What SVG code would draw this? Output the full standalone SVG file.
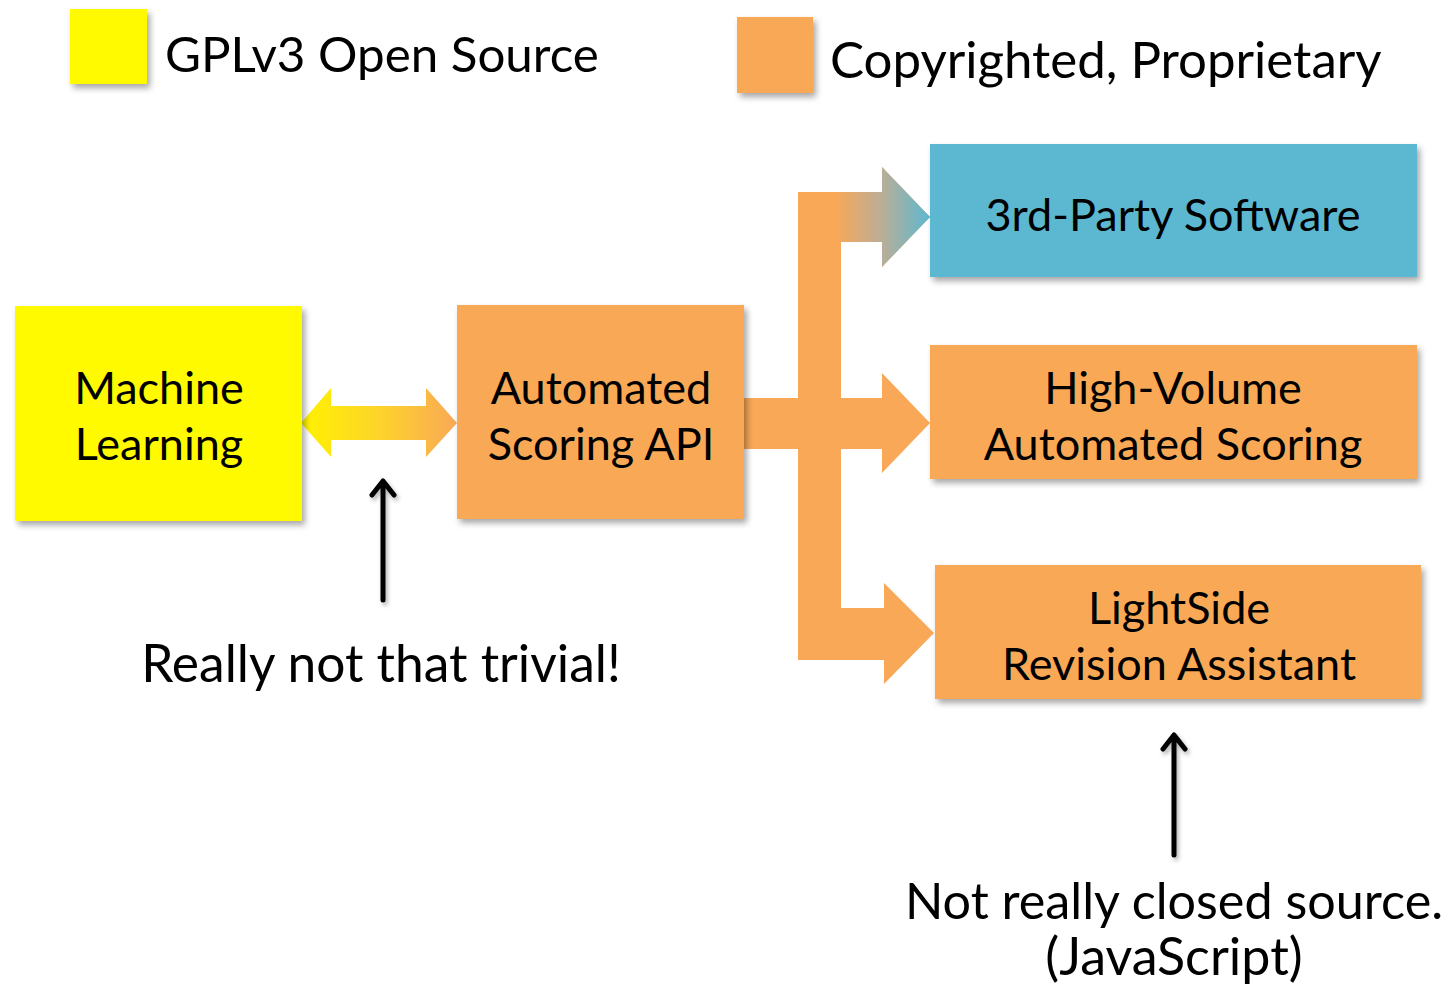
<svg xmlns="http://www.w3.org/2000/svg" width="1451" height="992" viewBox="0 0 1451 992">
<style>
.t{font-family:"Lato","Noto Sans","Liberation Sans",sans-serif;fill:#000;}
.n{font-size:45px;text-anchor:middle;}
.orange{fill:#F9A857;}
.yellow{fill:#FFFA00;}
.blue{fill:#5CB8D1;}
</style>
<defs>
<filter id="sh" x="-10%" y="-10%" width="125%" height="130%">
<feDropShadow dx="3" dy="4" stdDeviation="3" flood-color="#000" flood-opacity="0.35"/>
</filter>
<filter id="sh2" x="-50%" y="-10%" width="200%" height="130%">
<feDropShadow dx="2" dy="3" stdDeviation="2" flood-color="#000" flood-opacity="0.3"/>
</filter>
<linearGradient id="gy" x1="301" y1="0" x2="457" y2="0" gradientUnits="userSpaceOnUse">
<stop offset="0" stop-color="#FFF200"/>
<stop offset="0.5" stop-color="#FDD42A"/>
<stop offset="1" stop-color="#F9A857"/>
</linearGradient>
<linearGradient id="gb" x1="835" y1="0" x2="930" y2="0" gradientUnits="userSpaceOnUse">
<stop offset="0" stop-color="#F9A857"/>
<stop offset="0.5" stop-color="#B9AE98"/>
<stop offset="1" stop-color="#5CB8D1"/>
</linearGradient>
</defs>

<g id="legend-gpl">
<rect class="yellow" x="70" y="9" width="77" height="75" filter="url(#sh)"/>
<text class="t" x="165" y="72" font-size="49.3">GPLv3 Open Source</text>
</g>
<g id="legend-proprietary">
<rect class="orange" x="737" y="17" width="76" height="76" filter="url(#sh)"/>
<text class="t" x="830" y="78" font-size="51">Copyrighted, Proprietary</text>
</g>

<g id="connectors">
<path d="M301,423 L331,388 L331,406 L426,406 L426,388 L457,423 L426,457 L426,440 L331,440 L331,457 Z" fill="url(#gy)"/>
<path d="M798,192 L882,192 L882,167 L930,217 L882,267 L882,242 L841,242 L841,398 L882,398 L882,373 L930,423 L882,473 L882,449 L841,449 L841,608 L884,608 L884,583 L934,633 L884,684 L884,660 L798,660 L798,449 L744,449 L744,398 L798,398 Z" class="orange"/>
<path d="M835,192 L882,192 L882,167 L930,217 L882,267 L882,242 L835,242 Z" fill="url(#gb)"/>
<g stroke="#000" stroke-width="5" fill="none" stroke-linecap="round" stroke-linejoin="round" filter="url(#sh2)">
<path d="M383,600 L383,481 M372,495 L383,481 L394,495"/>
<path d="M1174,855 L1174,735 M1163,749 L1174,735 L1185,749"/>
</g>
</g>

<g id="machine-learning">
<rect class="yellow" x="15" y="306" width="287" height="215" filter="url(#sh)"/>
<text class="t n" x="159" y="404">Machine</text>
<text class="t n" x="159" y="460">Learning</text>
</g>
<g id="scoring-api">
<rect class="orange" x="457" y="305" width="287" height="214" filter="url(#sh)"/>
<text class="t n" x="601" y="404">Automated</text>
<text class="t n" x="601" y="460">Scoring API</text>
</g>
<g id="third-party">
<rect class="blue" x="930" y="144" width="487" height="133" filter="url(#sh)"/>
<text class="t n" x="1173" y="231">3rd-Party Software</text>
</g>
<g id="high-volume">
<rect class="orange" x="930" y="345" width="487" height="134" filter="url(#sh)"/>
<text class="t n" x="1173" y="404">High-Volume</text>
<text class="t n" x="1173" y="460">Automated Scoring</text>
</g>
<g id="lightside">
<rect class="orange" x="935" y="565" width="486" height="134" filter="url(#sh)"/>
<text class="t n" x="1179" y="624">LightSide</text>
<text class="t n" x="1179" y="680">Revision Assistant</text>
</g>

<g id="note-trivial">
<text class="t" x="381" y="682" font-size="51.5" text-anchor="middle">Really not that trivial!</text>
</g>
<g id="note-closed">
<text class="t" x="1174" y="919" font-size="50.3" text-anchor="middle">Not really closed source.</text>
<text class="t" x="1174" y="975" font-size="52" text-anchor="middle">(JavaScript)</text>
</g>
</svg>
